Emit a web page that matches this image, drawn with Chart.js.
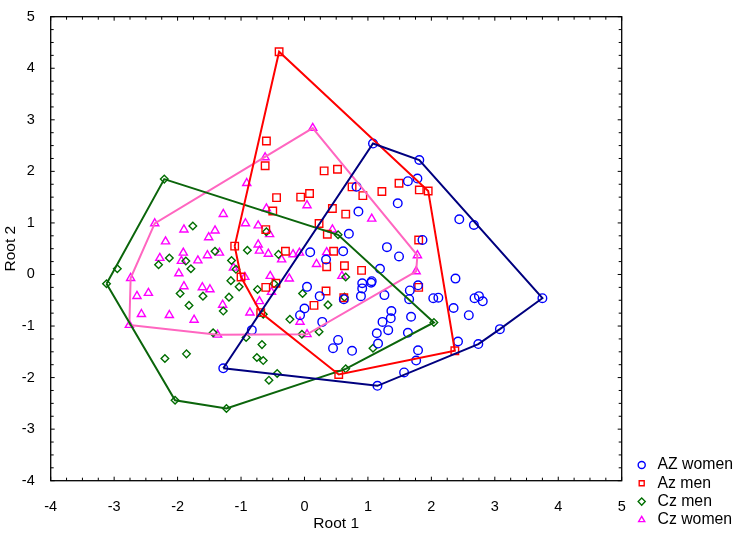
<!DOCTYPE html>
<html>
<head>
<meta charset="utf-8">
<script src="https://cdn.jsdelivr.net/npm/chart.js@4.4.0/dist/chart.umd.min.js"></script>
<style>
  html, body { margin: 0; padding: 0; background: #fff; }
  #wrap { width: 743px; height: 536px; }
</style>
</head>
<body>
<div id="wrap"><canvas id="rootChart" width="743" height="536"></canvas></div>
<script>
// discriminant scores (Root 1, Root 2)
const groupNames = ['AZ women', 'Az men', 'Cz men', 'Cz women'];

const azWomen = [
  [1.08, 2.54], [1.81, 2.22], [0.82, 1.70], [1.63, 1.81], [1.78, 1.86], [1.47, 1.38], [0.85, 1.22],
  [0.70, 0.79], [1.30, 0.53], [0.09, 0.43], [0.34, 0.29], [0.61, 0.45], [1.19, 0.11], [1.49, 0.35],
  [1.06, -0.13], [2.44, 1.07], [2.67, 0.96], [1.86, 0.67], [2.38, -0.08], [0.04, -0.24], [0.24, -0.42],
  [0.91, -0.17], [0.91, -0.27], [1.05, -0.16], [0.89, -0.42], [1.26, -0.40], [0.62, -0.48], [0.00, -0.66],
  [-0.07, -0.79], [0.28, -0.92], [1.37, -0.71], [1.36, -0.85], [1.23, -0.92], [1.32, -1.08], [1.14, -1.14],
  [1.16, -1.34], [0.53, -1.27], [0.45, -1.43], [0.75, -1.48], [-0.83, -1.08], [-1.28, -1.82], [1.15, -2.16],
  [1.79, -0.21], [1.66, -0.31], [1.65, -0.48], [2.03, -0.46], [2.11, -0.45], [2.68, -0.46], [2.75, -0.42],
  [2.81, -0.52], [3.75, -0.46], [2.35, -0.65], [2.59, -0.79], [1.68, -0.82], [1.63, -1.13], [2.42, -1.30],
  [3.08, -1.06], [2.74, -1.35], [1.79, -1.47], [1.76, -1.67], [1.57, -1.90]
];

const azMen = [
  [-0.40, 4.32], [-0.60, 2.59], [-0.62, 2.11], [-0.44, 1.49], [-0.50, 1.23], [-0.61, 0.87], [-0.30, 0.45],
  [-1.10, 0.55], [-1.00, -0.05], [-0.45, -0.17], [-0.61, -0.25], [-0.69, -0.74], [0.31, 2.01], [0.52, 2.04],
  [0.75, 1.70], [1.22, 1.61], [-0.06, 1.50], [0.08, 1.57], [0.92, 1.53], [0.44, 1.28], [0.65, 1.17],
  [1.49, 1.77], [0.23, 0.99], [0.36, 0.78], [0.46, 0.45], [0.35, 0.15], [0.63, 0.17], [0.90, 0.08],
  [0.34, -0.32], [0.15, -0.60], [0.62, -0.45], [0.54, -1.94], [1.81, 1.64], [1.95, 1.62], [1.80, 0.67],
  [1.80, -0.25], [2.37, -1.48]
];

const czMen = [
  [-2.21, 1.85], [-1.76, 0.94], [-0.60, 0.83], [-0.90, 0.47], [-1.41, 0.45], [-0.41, 0.39], [-2.13, 0.32],
  [-2.30, 0.19], [-1.87, 0.26], [-1.15, 0.27], [-1.79, 0.11], [-2.95, 0.11], [-1.08, 0.10], [-3.12, -0.18],
  [-1.16, -0.12], [-0.48, -0.18], [-1.03, -0.24], [-0.74, -0.29], [-1.96, -0.37], [-1.60, -0.42], [-1.19, -0.44],
  [-1.82, -0.60], [-1.28, -0.71], [-0.65, -0.77], [-1.44, -1.13], [-0.92, -1.22], [-0.67, -1.36], [-2.20, -1.63],
  [-1.86, -1.54], [-0.75, -1.61], [-0.65, -1.67], [-0.43, -1.92], [-0.56, -2.05], [-2.04, -2.44], [-1.23, -2.60],
  [0.53, 0.77], [0.65, -0.05], [-0.03, -0.37], [0.37, -0.59], [0.63, -0.44], [-0.23, -0.87], [0.23, -1.11],
  [-0.04, -1.16], [1.08, -1.43], [0.65, -1.83], [2.04, -0.93]
];

const czWomen = [
  [-0.91, 1.77], [-1.28, 1.17], [-2.36, 0.99], [-0.93, 0.99], [-1.90, 0.87], [-1.41, 0.85], [-1.51, 0.72],
  [-0.73, 0.95], [-0.55, 0.78], [-0.60, 1.28], [-2.19, 0.64], [-0.73, 0.58], [-0.71, 0.46], [-0.57, 0.40],
  [-1.91, 0.42], [-1.34, 0.42], [-1.53, 0.37], [-2.28, 0.32], [-1.94, 0.26], [-1.68, 0.27], [-0.36, 0.29],
  [-1.12, 0.13], [-1.98, 0.02], [-2.74, -0.07], [-0.54, -0.03], [-0.94, -0.05], [-1.90, -0.23], [-1.61, -0.25],
  [-1.49, -0.29], [-2.46, -0.36], [-2.64, -0.42], [-0.52, -0.34], [-1.29, -0.59], [-0.71, -0.52], [-0.86, -0.74],
  [-2.57, -0.77], [-2.13, -0.79], [-1.74, -0.88], [-2.76, -0.98], [-1.37, -1.17], [0.13, 2.84], [-0.62, 2.27],
  [0.04, 1.34], [1.06, 1.08], [0.44, 0.87], [0.19, 0.20], [0.59, -0.03], [0.35, 0.43], [-0.08, 0.42],
  [-0.18, 0.39], [-0.07, -0.92], [0.04, -1.16], [-0.24, -0.08], [1.78, 0.37], [1.76, 0.06]
];

const axisTicks = [-4, -3, -2, -1, 0, 1, 2, 3, 4, 5];
const minorStep = 0.25;

(function() {
    const canvas = document.getElementById('rootChart');
    if (!canvas) return;

    const FONT = 'Arial, "Liberation Sans", Helvetica, sans-serif';
    Chart.defaults.color = '#000';
    Chart.defaults.font.family = FONT;

    const series = [azWomen, azMen, czMen, czWomen];
    const markers = [
        { style: 'circle',   radius: 4.3, color: '#0000ff', line: '#00007f' },
        { style: 'rect',     radius: 5.3, color: '#ff0000', line: '#ff0000' },
        { style: 'rectRot',  radius: 3.8, color: '#006e00', line: '#0b650b' },
        { style: 'triangle', radius: 4.7, color: '#ff00ff', line: '#ff66c0' }
    ];

    // convex hull (monotone chain), closed back to the first vertex
    function convexHull(list) {
        const pts = list.map(p => ({ x: p[0], y: p[1] }))
            .sort((a, b) => a.x - b.x || a.y - b.y);
        const cross = (o, a, b) => (a.x - o.x) * (b.y - o.y) - (a.y - o.y) * (b.x - o.x);
        const lower = [], upper = [];
        for (const p of pts) {
            while (lower.length >= 2 && cross(lower[lower.length - 2], lower[lower.length - 1], p) <= 0) lower.pop();
            lower.push(p);
        }
        for (let i = pts.length - 1; i >= 0; i--) {
            const p = pts[i];
            while (upper.length >= 2 && cross(upper[upper.length - 2], upper[upper.length - 1], p) <= 0) upper.pop();
            upper.push(p);
        }
        lower.pop();
        upper.pop();
        const hull = lower.concat(upper);
        hull.push(hull[0]);
        return hull;
    }

    const pointSets = series.map((pts, i) => ({
        label: groupNames[i],
        data: pts.map(p => ({ x: p[0], y: p[1] })),
        pointStyle: markers[i].style,
        pointRadius: markers[i].radius,
        pointHoverRadius: markers[i].radius,
        borderColor: markers[i].color,
        backgroundColor: 'rgba(0,0,0,0)',
        borderWidth: 1.4,
        order: 1
    }));

    const hullSets = series.map((pts, i) => ({
        label: groupNames[i] + ' hull',
        data: convexHull(pts),
        showLine: true,
        pointRadius: 0,
        borderColor: markers[i].line,
        backgroundColor: 'rgba(0,0,0,0)',
        borderWidth: 2,
        tension: 0,
        fill: false,
        order: 0
    }));

    // box frame with small inward ticks on all four sides
    const frameTicks = {
        id: 'frameTicks',
        afterDatasetsDraw(chart) {
            const { ctx, chartArea: a, scales: { x, y } } = chart;
            ctx.save();
            ctx.strokeStyle = '#000';
            ctx.lineWidth = 1.3;
            ctx.strokeRect(a.left, a.top, a.right - a.left, a.bottom - a.top);
            ctx.beginPath();
            for (let v = x.min; v <= x.max + 1e-9; v += minorStep) {
                const px = x.getPixelForValue(v);
                const len = Number.isInteger(v) ? 4 : 3;
                ctx.moveTo(px, a.bottom); ctx.lineTo(px, a.bottom - len);
                ctx.moveTo(px, a.top); ctx.lineTo(px, a.top + len);
            }
            for (let v = y.min; v <= y.max + 1e-9; v += minorStep) {
                const py = y.getPixelForValue(v);
                const len = Number.isInteger(v) ? 4 : 3;
                ctx.moveTo(a.left, py); ctx.lineTo(a.left + len, py);
                ctx.moveTo(a.right, py); ctx.lineTo(a.right - len, py);
            }
            ctx.lineWidth = 1;
            ctx.stroke();
            ctx.restore();
        }
    };

    new Chart(canvas, {
        type: 'scatter',
        data: { datasets: pointSets.concat(hullSets) },
        options: {
            responsive: false,
            animation: false,
            layout: { padding: { top: 14, right: 0, bottom: 5.7, left: 0 } },
            scales: {
                x: {
                    type: 'linear',
                    min: axisTicks[0],
                    max: axisTicks[axisTicks.length - 1],
                    afterBuildTicks: s => { s.ticks = axisTicks.map(v => ({ value: v })); },
                    ticks: { padding: 10, font: { size: 14.5 }, color: '#000', autoSkip: false },
                    grid: { display: false },
                    border: { display: false },
                    title: {
                        display: true, text: 'Root 1', color: '#000',
                        font: { size: 15.5, lineHeight: 0.8 },
                        padding: { top: 0, bottom: 0 }
                    },
                    afterFit: s => { s.height = 49.6; }
                },
                y: {
                    type: 'linear',
                    min: axisTicks[0],
                    max: axisTicks[axisTicks.length - 1],
                    afterBuildTicks: s => { s.ticks = axisTicks.map(v => ({ value: v })); },
                    ticks: { padding: 8, font: { size: 14.5 }, color: '#000', autoSkip: false },
                    grid: { display: false },
                    border: { display: false },
                    title: {
                        display: true, text: 'Root 2', color: '#000',
                        font: { size: 15.5, lineHeight: 0.8 },
                        padding: { top: 4.3, bottom: 0 }
                    },
                    afterFit: s => { s.width = 50.7; }
                },
                // empty strip between the plot frame and the legend
                gap: {
                    axis: 'y',
                    position: 'right',
                    min: 0,
                    max: 1,
                    ticks: { display: false },
                    grid: { display: false },
                    border: { display: false },
                    afterFit: s => { s.width = 9.6; }
                }
            },
            plugins: {
                legend: {
                    position: 'right',
                    align: 'end',
                    labels: {
                        usePointStyle: true,
                        boxHeight: 5,
                        boxWidth: 16,
                        padding: 2.5,
                        color: '#000',
                        font: { size: 15.8 },
                        filter: item => item.datasetIndex < groupNames.length
                    }
                },
                tooltip: { enabled: false }
            }
        },
        plugins: [frameTicks]
    });
})();
</script>
</body>
</html>
